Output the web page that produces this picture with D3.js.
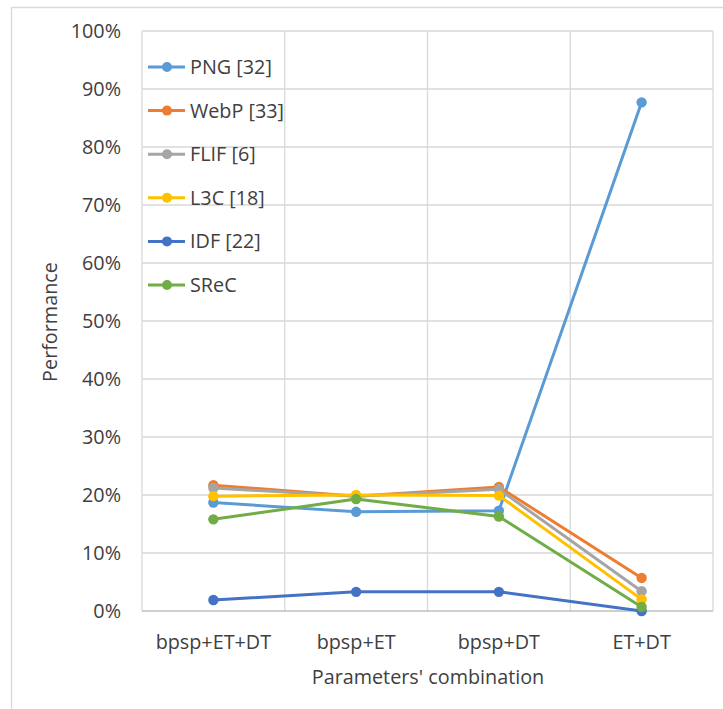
<!DOCTYPE html>
<html><head><meta charset="utf-8">
<script src="https://cdn.jsdelivr.net/npm/d3@7"></script>
<style>body{margin:0;background:#fff}svg{display:block}text{font-family:"Open Sans",Lato,sans-serif;fill:#404040}</style>
</head><body>
<svg id="c" width="723" height="709"></svg>
<script>
const categories = ["bpsp+ET+DT", "bpsp+ET", "bpsp+DT", "ET+DT"];
const seriesNames = ["PNG [32]", "WebP [33]", "FLIF [6]", "L3C [18]", "IDF [22]", "SReC"];
const seriesColors = ["#5B9BD5", "#ED7D31", "#A5A5A5", "#FFC000", "#4472C4", "#70AD47"];
const PNG  = [18.7, 17.1, 17.3, 87.7];
const WebP = [21.7, 19.8, 21.4, 5.7];
const FLIF = [21.2, 19.8, 21.0, 3.4];
const L3C  = [19.8, 20.0, 19.9, 2.0];
const IDF  = [1.9, 3.3, 3.3, 0.0];
const SReC = [15.8, 19.3, 16.3, 0.7];
const seriesValues = [PNG, WebP, FLIF, L3C, IDF, SReC];
const yTicks = [0,10,20,30,40,50,60,70,80,90,100];

const svg = d3.select("#c");
const L = 142, R = 713, T = 31, B = 611;
const FS = 19.8;
const x = d3.scaleBand().domain(categories).range([L, R]);
const y = d3.scaleLinear().domain([0, 100]).range([B, T]);

svg.append("path").attr("d", "M11.5,709 V7.5 H723").attr("fill","none").attr("stroke","#D9D9D9").attr("stroke-width",1.3);

svg.append("g").selectAll("line").data(yTicks.filter(d=>d>0)).join("line")
  .attr("x1", L).attr("x2", R).attr("y1", d=>y(d)).attr("y2", d=>y(d))
  .attr("stroke", "#D9D9D9").attr("stroke-width", 1.3);
const bounds = categories.map(c=>x(c)).concat([R]);
svg.append("g").selectAll("line").data(bounds).join("line")
  .attr("x1", d=>d).attr("x2", d=>d).attr("y1", T).attr("y2", B)
  .attr("stroke", "#D9D9D9").attr("stroke-width", 1.3);
svg.append("line").attr("x1", L).attr("x2", R).attr("y1", B).attr("y2", B)
  .attr("stroke", "#BFBFBF").attr("stroke-width", 1.5);

svg.append("g").selectAll("text").data(yTicks).join("text")
  .attr("x", 121).attr("y", d=>y(d)).attr("dy","0.35em").attr("text-anchor","end")
  .attr("font-size", FS).text(d=>d+"%");
svg.append("g").selectAll("text").data(categories).join("text")
  .attr("x", d=>x(d)+x.bandwidth()/2).attr("y", 642).attr("dy","0.35em").attr("text-anchor","middle")
  .attr("font-size", FS).text(d=>d);
svg.append("text").attr("x", 428).attr("y", 677).attr("dy","0.35em").attr("text-anchor","middle")
  .attr("font-size", FS).text("Parameters' combination");
svg.append("text").attr("transform","translate(50,322) rotate(-90)").attr("dy","0.35em").attr("text-anchor","middle")
  .attr("font-size", FS).text("Performance");

const line = d3.line().x((d,i)=>x(categories[i])+x.bandwidth()/2).y(d=>y(d));
seriesValues.forEach((vals, si) => {
  const g = svg.append("g");
  g.append("path").attr("d", line(vals)).attr("fill","none").attr("stroke", seriesColors[si]).attr("stroke-width", 3).attr("stroke-linejoin","round");
  g.selectAll("circle").data(vals).join("circle")
    .attr("cx", (d,i)=>x(categories[i])+x.bandwidth()/2).attr("cy", d=>y(d)).attr("r", 5.2)
    .attr("fill", seriesColors[si]);
});

const lg = svg.append("g").selectAll("g").data(seriesNames).join("g")
  .attr("transform", (d,i)=>`translate(0,${67 + i*43.6})`);
lg.append("line").attr("x1",148).attr("x2",185).attr("stroke",(d,i)=>seriesColors[i]).attr("stroke-width",3);
lg.append("circle").attr("cx",167).attr("r",5).attr("fill",(d,i)=>seriesColors[i]);
lg.append("text").attr("x",190).attr("dy","0.35em").attr("font-size",FS).text(d=>d);
</script>
</body></html>
